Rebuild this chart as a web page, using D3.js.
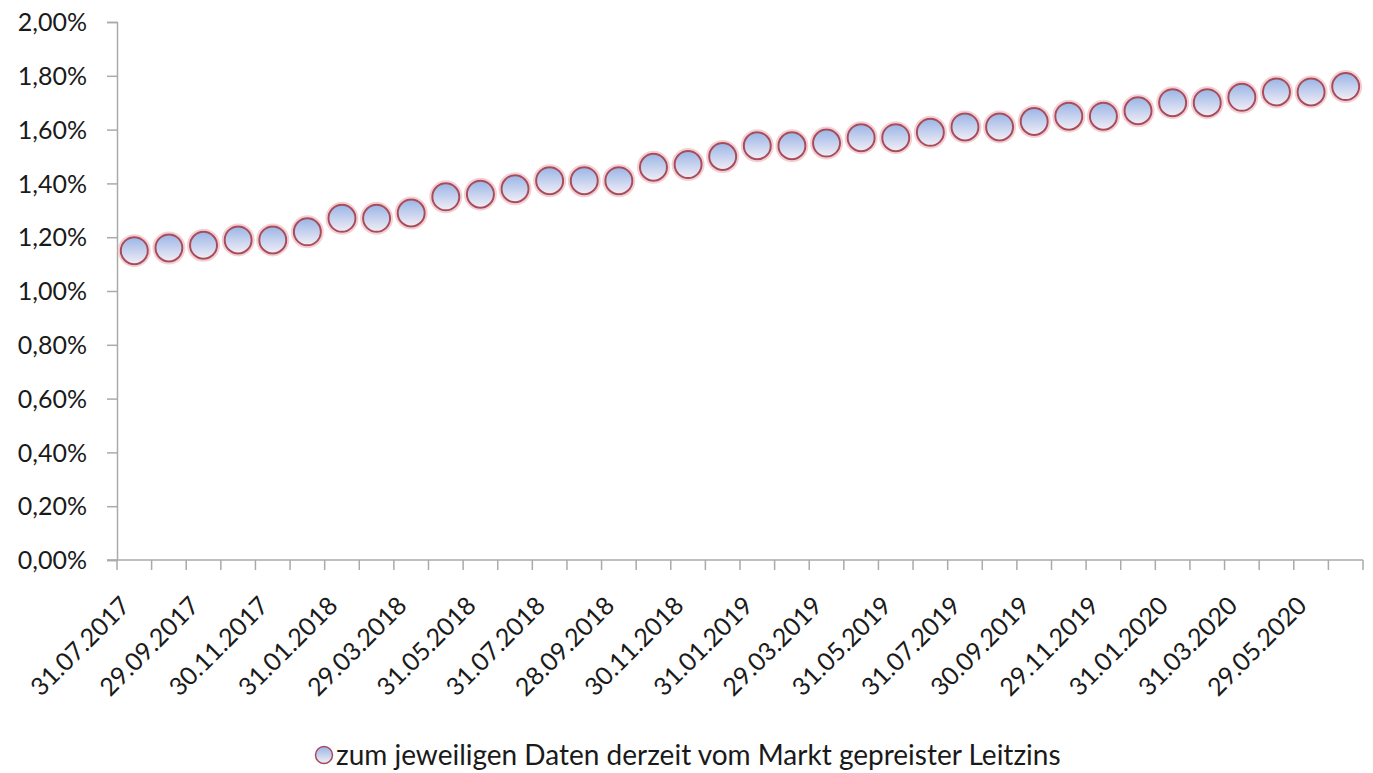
<!DOCTYPE html>
<html>
<head>
<meta charset="utf-8">
<script src="https://cdn.jsdelivr.net/npm/d3@7"></script>
<style>
  body { margin: 0; background: #fff; }
  svg { display: block; }
  svg text { font-family: Lato, "Open Sans", sans-serif; fill: #1a1a1a; }
</style>
</head>
<body>
<svg id="chart" width="1373" height="773"></svg>
<script>
const dates = ["31.07.2017","31.08.2017","29.09.2017","31.10.2017","30.11.2017","29.12.2017",
  "31.01.2018","28.02.2018","29.03.2018","30.04.2018","31.05.2018","29.06.2018",
  "31.07.2018","31.08.2018","28.09.2018","31.10.2018","30.11.2018","31.12.2018",
  "31.01.2019","28.02.2019","29.03.2019","30.04.2019","31.05.2019","28.06.2019",
  "31.07.2019","30.08.2019","30.09.2019","31.10.2019","29.11.2019","31.12.2019",
  "31.01.2020","28.02.2020","31.03.2020","30.04.2020","29.05.2020","30.06.2020"];
const rate = [1.15,1.16,1.17,1.19,1.19,1.22,
  1.27,1.27,1.29,1.35,1.36,1.38,
  1.41,1.41,1.41,1.46,1.47,1.50,
  1.54,1.54,1.55,1.57,1.57,1.59,
  1.61,1.61,1.63,1.65,1.65,1.67,
  1.70,1.70,1.72,1.74,1.74,1.76];
const yTicks = [0,0.2,0.4,0.6,0.8,1.0,1.2,1.4,1.6,1.8,2.0];
const legendLabel = "zum jeweiligen Daten derzeit vom Markt gepreister Leitzins";

const svg = d3.select('#chart');
const mLeft = 117, mRight = 1363, mTop = 22, mBottom = 560;

const x = d3.scaleBand().domain(dates).range([mLeft, mRight]).padding(0);
const y = d3.scaleLinear().domain([0, 2]).range([mBottom, mTop]);

const fmt = v => v.toFixed(2).replace('.', ',') + '%';

// gradient for markers
const defs = svg.append('defs');
const grad = defs.append('linearGradient').attr('id','mk').attr('x1',0).attr('y1',0).attr('x2',0).attr('y2',1);
grad.append('stop').attr('offset','0%').attr('stop-color','#9ab5e6');
grad.append('stop').attr('offset','100%').attr('stop-color','#f2eef6');

// y axis
const yAxis = svg.append('g')
  .attr('transform', `translate(${mLeft},0)`)
  .call(d3.axisLeft(y).tickValues(yTicks).tickFormat(fmt).tickSize(10).tickPadding(20));
yAxis.attr('font-family', null);
yAxis.select('.domain').attr('stroke','#aaa').attr('stroke-width',1.5);
yAxis.selectAll('.tick line').attr('stroke','#aaa').attr('stroke-width',1.5);
yAxis.selectAll('text').attr('font-size', 25).attr('dy','0.35em');

// x axis line + ticks at category boundaries
svg.append('line').attr('x1', mLeft - 10).attr('x2', mRight).attr('y1', mBottom).attr('y2', mBottom)
  .attr('stroke','#aaa').attr('stroke-width',1.5);
svg.append('g').selectAll('line')
  .data(dates.concat(['end']))
  .join('line')
  .attr('x1', d => d === 'end' ? mRight : x(d))
  .attr('x2', d => d === 'end' ? mRight : x(d))
  .attr('y1', mBottom).attr('y2', mBottom + 10)
  .attr('stroke','#aaa').attr('stroke-width',1.5);

// x labels, every second date
svg.append('g')
  .selectAll('text')
  .data(dates.filter((d,i) => i % 2 === 0))
  .join('text')
  .attr('transform', d => `translate(${x(d) + x.bandwidth()/2 - 9},${mBottom + 41}) rotate(-45)`)
  .attr('text-anchor','end')
  .attr('dy','0.35em')
  .attr('font-size', 25)
  .text(d => d);

// markers
const pts = svg.append('g').selectAll('g')
  .data(dates.map((d,i) => ({d, v: rate[i]})))
  .join('g')
  .attr('transform', p => `translate(${x(p.d) + x.bandwidth()/2},${y(p.v)})`);
pts.append('circle').attr('r', 15.5).attr('fill','none').attr('stroke','#f4d0d4').attr('stroke-width',2);
pts.append('circle').attr('r', 13.5).attr('fill','url(#mk)').attr('stroke','#a84b5a').attr('stroke-width',2);

// legend
const lg = svg.append('g').attr('transform','translate(324,755)');
lg.append('circle').attr('r', 8.5).attr('fill','url(#mk)').attr('stroke','#a84b5a').attr('stroke-width',1.5);
lg.append('text').attr('x', 12).attr('y', 0).attr('dy','0.35em').attr('font-size', 28)
  .text(legendLabel);
</script>
</body>
</html>
